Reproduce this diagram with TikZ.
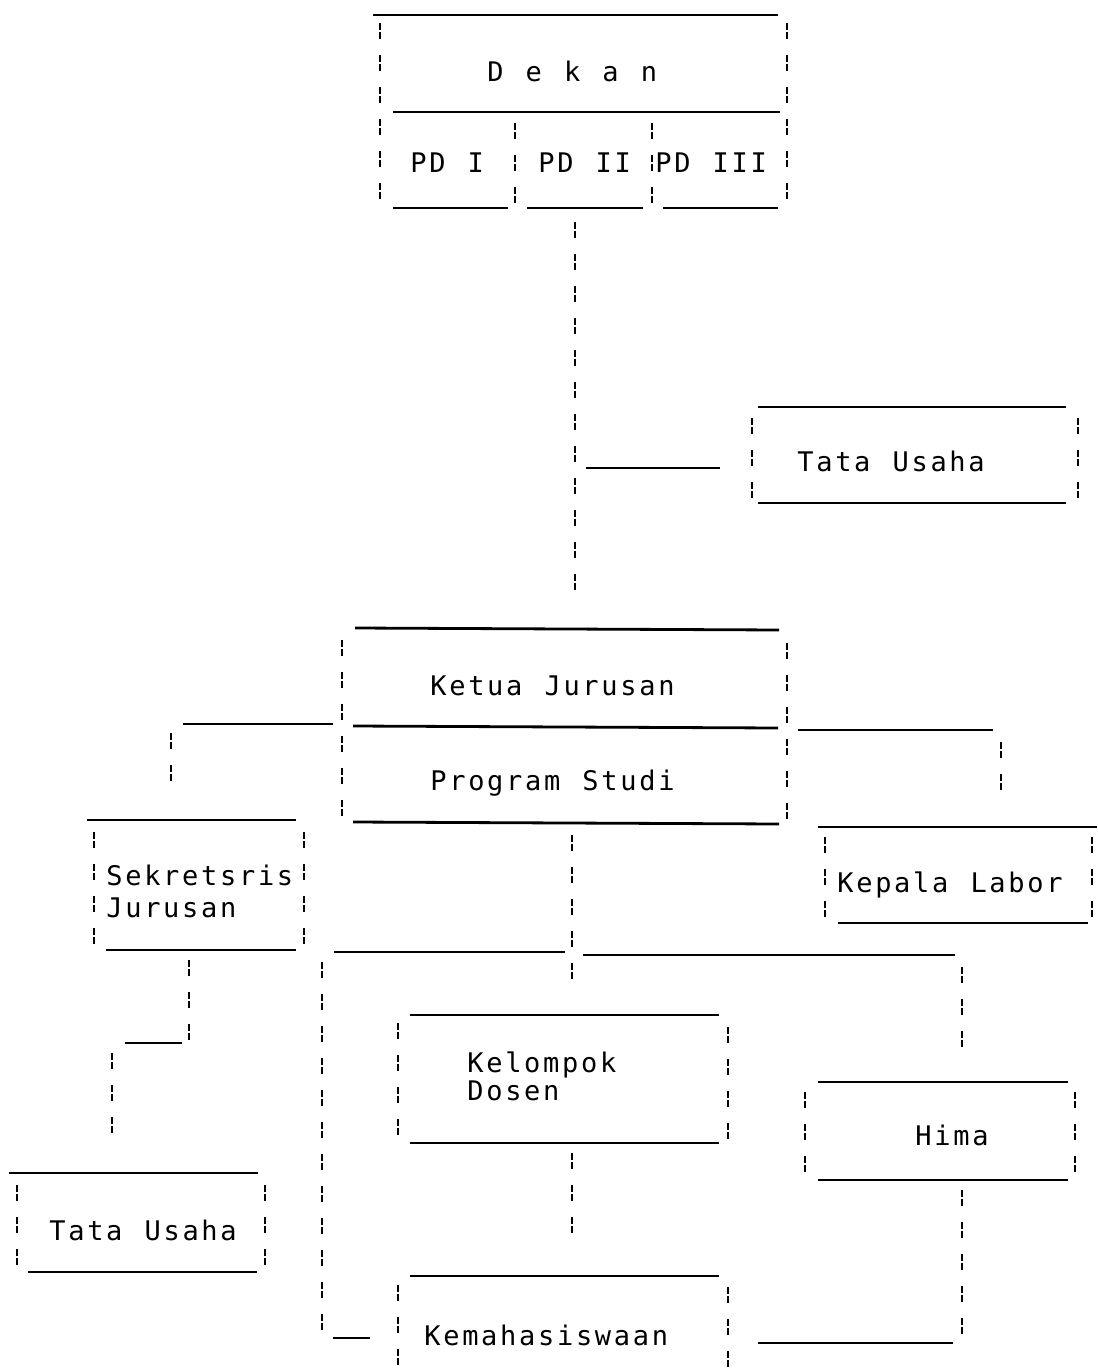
\documentclass[tikz,border=0pt]{standalone}
\usepackage{fontspec}
\newfontfamily\dm{DejaVu Sans Mono}[LetterSpace=10,WordSpace={1.166,0,0}]
\tikzset{
  hl/.style={line width=1.4pt},
  vl/.style={line width=1.4pt, dash pattern=on 3.5pt off 1pt on 3.5pt off 8pt},
  txt/.style={anchor=base west, inner sep=0pt, font=\dm\fontsize{13.5}{16}\selectfont}
}
\begin{document}
\begin{tikzpicture}[x=0.5pt,y=-0.5pt]
\useasboundingbox[fill=white] (0,0) rectangle (1097,1369);

% ---------- Dekan ----------
\draw[hl] (373,15) -- (778,15);
\draw[vl] (380,23) -- (380,203);
\draw[vl] (787,23) -- (787,203);
\draw[hl] (393,112) -- (780,112);
\draw[vl] (515,123) -- (515,203);
\draw[vl] (652,123) -- (652,203);
\draw[hl] (393,208) -- (508,208);
\draw[hl] (527,208) -- (643,208);
\draw[hl] (663,208) -- (778,208);
\node[txt] (dekan) at (487,82) {D e k a n};
\node[txt] (pd1) at (410,173) {PD I};
\node[txt] (pd2) at (538,173) {PD II};
\node[txt] (pd3) at (655,173) {PD III};

% spine
\coordinate (spinetop) at (575,222);
\coordinate (spinebot) at (575,598);
\draw[vl] (spinetop) -- (spinebot);
\coordinate (tuA) at (586,468);
\coordinate (tuB) at (720,468);
\draw[hl] (tuA) -- (tuB);

% ---------- Tata Usaha (top) ----------
\draw[hl] (758,407) -- (1066,407);
\draw[vl] (752,418) -- (752,500);
\draw[vl] (1078,418) -- (1078,500);
\draw[hl] (758,503) -- (1066,503);
\node[txt] (tu1) at (797,471) {Tata Usaha};

% ---------- Ketua Jurusan / Program Studi ----------
\draw[hl] (355,628) -- (779,630);
\draw[vl] (342,640) -- (342,818);
\draw[vl] (787,643) -- (787,820);
\draw[hl] (353,726) -- (778,728);
\draw[hl] (353,822) -- (779,824);
\node[txt] (ketua) at (430,695) {Ketua Jurusan};
\node[txt] (prodi) at (430,790) {Program Studi};

% left branch
\coordinate (lbA) at (183,724);
\coordinate (lbB) at (333,724);
\draw[hl] (lbA) -- (lbB);
\draw[vl] (171,733) -- (171,785);
% right branch
\coordinate (rbA) at (798,730);
\coordinate (rbB) at (993,730);
\draw[hl] (rbA) -- (rbB);
\draw[vl] (1001,742) -- (1001,790);

% ---------- Sekretaris Jurusan ----------
\draw[hl] (87,820) -- (296,820);
\draw[vl] (94,832) -- (94,945);
\draw[vl] (304,832) -- (304,945);
\draw[hl] (106,950) -- (296,950);
\node[txt] (sek1) at (106,885) {Sekretsris};
\node[txt] (sek2) at (106,917) {Jurusan};

% down to Tata Usaha (left)
\draw[vl] (189,960) -- (189,1040);
\draw[hl] (125,1043) -- (182,1043);
\draw[vl] (112,1053) -- (112,1135);

% ---------- Tata Usaha (left) ----------
\draw[hl] (9,1173) -- (258,1173);
\draw[vl] (17,1185) -- (17,1267);
\draw[vl] (265,1185) -- (265,1267);
\draw[hl] (28,1272) -- (257,1272);
\node[txt] (tu2) at (49,1240) {Tata Usaha};

% ---------- Kepala Labor ----------
\draw[hl] (818,827) -- (1097,827);
\draw[vl] (825,837) -- (825,920);
\draw[vl] (1092,837) -- (1092,920);
\draw[hl] (838,923) -- (1088,923);
\node[txt] (labor) at (837,892) {Kepala Labor};

% centre down and junction
\draw[vl] (572,835) -- (572,980);
\draw[hl] (334,952) -- (565,952);
\draw[hl] (583,955) -- (955,955);
\draw[vl] (322,962) -- (322,1340);
\draw[hl] (333,1338) -- (370,1338);
\draw[vl] (962,967) -- (962,1047);

% ---------- Kelompok Dosen ----------
\draw[hl] (410,1015) -- (719,1015);
\draw[vl] (398,1023) -- (398,1140);
\draw[vl] (728,1027) -- (728,1140);
\draw[hl] (410,1143) -- (719,1143);
\node[txt] (kel1) at (467,1072) {Kelompok};
\node[txt] (kel2) at (467,1100) {Dosen};
\draw[vl] (572,1153) -- (572,1237);

% ---------- Kemahasiswaan ----------
\draw[hl] (410,1276) -- (719,1276);
\draw[vl] (398,1285) -- (398,1369);
\draw[vl] (728,1287) -- (728,1369);
\node[txt] (kema) at (424,1345) {Kemahasiswaan};

% ---------- Hima ----------
\draw[hl] (818,1082) -- (1068,1082);
\draw[vl] (805,1092) -- (805,1173);
\draw[vl] (1075,1092) -- (1075,1173);
\draw[hl] (818,1180) -- (1068,1180);
\node[txt] (hima) at (915,1145) {Hima};
\draw[vl] (962,1190) -- (962,1337);
\draw[hl] (758,1343) -- (953,1343);
\end{tikzpicture}
\end{document}
